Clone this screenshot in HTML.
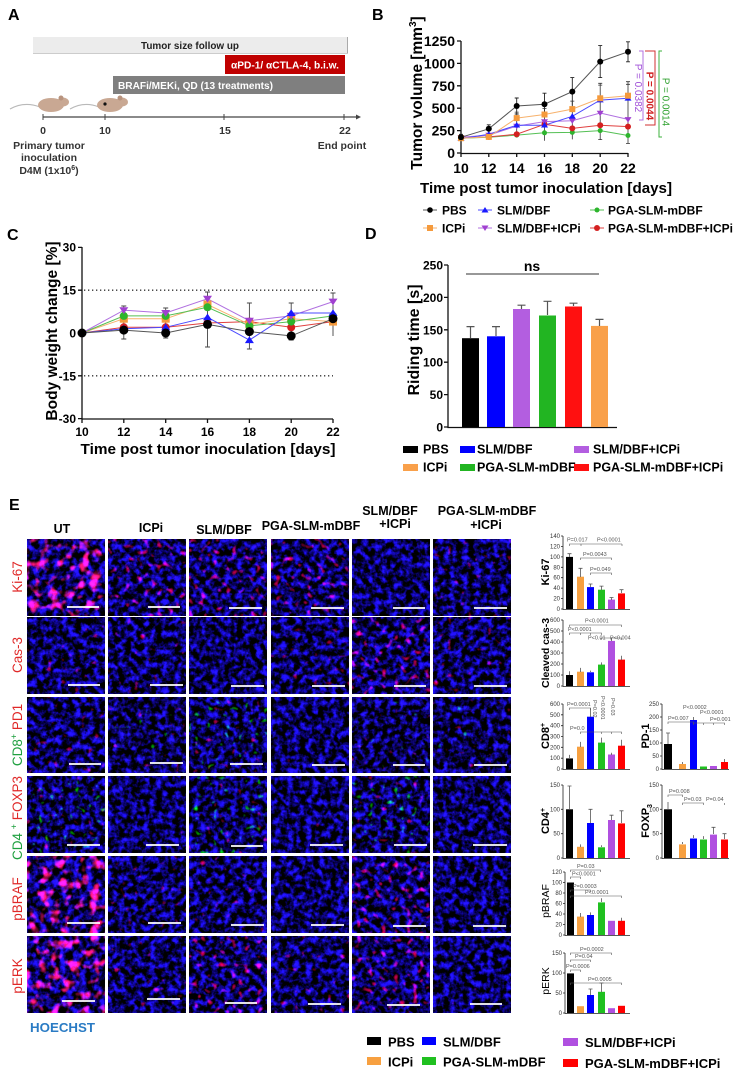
<!DOCTYPE html>
<html><head><meta charset="utf-8">
<style>
html,body{margin:0;padding:0;background:#fff;}
svg{display:block;font-family:"Liberation Sans",Arial,sans-serif;}
.b{font-weight:bold;}
</style></head><body>
<svg width="741" height="1070" viewBox="0 0 741 1070" xmlns="http://www.w3.org/2000/svg">
<defs>
<filter id="fB" x="0" y="0" width="1" height="1" color-interpolation-filters="sRGB">
 <feTurbulence type="fractalNoise" baseFrequency="0.16" numOctaves="3" seed="3" result="n"/>
 <feColorMatrix in="n" type="matrix" values="0.4 0 0 0 -0.17  0.25 0 0 0 -0.12  3.0 0 0 0 -1.15  0 0 0 0 1" result="b"/>
 <feTurbulence type="fractalNoise" baseFrequency="0.14" numOctaves="1" seed="11" result="m"/>
 <feColorMatrix in="m" type="matrix" values="0 5 0 0 -3.75  0 0 0 0 0  0 2 0 0 -1.5  0 0 0 0 1" result="r"/>
 <feComposite in="b" in2="r" operator="arithmetic" k1="0" k2="1" k3="1" k4="0"/>
</filter>
<filter id="fR1" x="0" y="0" width="1" height="1" color-interpolation-filters="sRGB">
 <feTurbulence type="fractalNoise" baseFrequency="0.16" numOctaves="3" seed="5" result="n"/>
 <feColorMatrix in="n" type="matrix" values="0.4 0 0 0 -0.17  0.25 0 0 0 -0.12  3.0 0 0 0 -1.15  0 0 0 0 1" result="b"/>
 <feTurbulence type="fractalNoise" baseFrequency="0.15" numOctaves="1" seed="21" result="m"/>
 <feColorMatrix in="m" type="matrix" values="0 5 0 0 -3.35  0 0 0 0 0  0 2 0 0 -1.4  0 0 0 0 1" result="r"/>
 <feComposite in="b" in2="r" operator="arithmetic" k1="0" k2="1" k3="1" k4="0"/>
</filter>
<filter id="fR2" x="0" y="0" width="1" height="1" color-interpolation-filters="sRGB">
 <feTurbulence type="fractalNoise" baseFrequency="0.16" numOctaves="3" seed="7" result="n"/>
 <feColorMatrix in="n" type="matrix" values="0.4 0 0 0 -0.17  0.25 0 0 0 -0.12  3.0 0 0 0 -1.15  0 0 0 0 1" result="b"/>
 <feTurbulence type="fractalNoise" baseFrequency="0.16" numOctaves="1" seed="31" result="m"/>
 <feColorMatrix in="m" type="matrix" values="0 5 0 0 -3.0  0 0 0 0 0  0 2 0 0 -1.2  0 0 0 0 1" result="r"/>
 <feComposite in="b" in2="r" operator="arithmetic" k1="0" k2="1" k3="1" k4="0"/>
</filter>
<filter id="fR3" x="0" y="0" width="1" height="1" color-interpolation-filters="sRGB">
 <feTurbulence type="fractalNoise" baseFrequency="0.15" numOctaves="3" seed="9" result="n"/>
 <feColorMatrix in="n" type="matrix" values="0.4 0 0 0 -0.17  0.25 0 0 0 -0.12  3.0 0 0 0 -1.15  0 0 0 0 1" result="b"/>
 <feTurbulence type="fractalNoise" baseFrequency="0.1" numOctaves="2" seed="41" result="m"/>
 <feColorMatrix in="m" type="matrix" values="0 5 0 0 -2.55  0 0.4 0 0 -0.2  0 2.4 0 0 -1.25  0 0 0 0 1" result="r"/>
 <feComposite in="b" in2="r" operator="arithmetic" k1="0" k2="1" k3="1" k4="0"/>
</filter>
<filter id="fG1" x="0" y="0" width="1" height="1" color-interpolation-filters="sRGB">
 <feTurbulence type="fractalNoise" baseFrequency="0.16" numOctaves="3" seed="13" result="n"/>
 <feColorMatrix in="n" type="matrix" values="0.4 0 0 0 -0.17  0.25 0 0 0 -0.12  3.0 0 0 0 -1.2  0 0 0 0 1" result="b"/>
 <feTurbulence type="fractalNoise" baseFrequency="0.16" numOctaves="1" seed="51" result="m"/>
 <feColorMatrix in="m" type="matrix" values="0 5 0 0 -3.5  0 0 5 0 -3.55  0 2 0 0 -1.45  0 0 0 0 1" result="r"/>
 <feComposite in="b" in2="r" operator="arithmetic" k1="0" k2="1" k3="1" k4="0"/>
</filter>
<filter id="fG2" x="0" y="0" width="1" height="1" color-interpolation-filters="sRGB">
 <feTurbulence type="fractalNoise" baseFrequency="0.16" numOctaves="3" seed="17" result="n"/>
 <feColorMatrix in="n" type="matrix" values="0.4 0 0 0 -0.17  0.25 0 0 0 -0.12  3.0 0 0 0 -1.15  0 0 0 0 1" result="b"/>
 <feTurbulence type="fractalNoise" baseFrequency="0.16" numOctaves="1" seed="61" result="m"/>
 <feColorMatrix in="m" type="matrix" values="0 5 0 0 -3.4  0 0 6 0 -3.95  0 2 0 0 -1.4  0 0 0 0 1" result="r"/>
 <feComposite in="b" in2="r" operator="arithmetic" k1="0" k2="1" k3="1" k4="0"/>
</filter>
</defs>

<!-- ================= Panel A ================= -->
<text x="8" y="20" class="b" font-size="16">A</text>
<rect x="33" y="37" width="314" height="16" fill="#ececec"/>
<line x1="347.5" y1="37" x2="347.5" y2="54" stroke="#aaa" stroke-width="1"/>
<line x1="33" y1="53.5" x2="348" y2="53.5" stroke="#ccc" stroke-width="1"/>
<text x="190" y="49" class="b" font-size="10" text-anchor="middle" fill="#222" textLength="98" lengthAdjust="spacingAndGlyphs">Tumor size follow up</text>
<rect x="225" y="55" width="120" height="19" fill="#c00000"/>
<text x="231" y="68.5" class="b" font-size="10" fill="#fff" textLength="108" lengthAdjust="spacingAndGlyphs">αPD-1/ αCTLA-4, b.i.w.</text>
<rect x="113" y="76" width="232" height="18" fill="#7f7f7f"/>
<text x="118" y="89" class="b" font-size="10" fill="#fff" textLength="155" lengthAdjust="spacingAndGlyphs">BRAFi/MEKi, QD (13 treatments)</text>
<path d="M10,109 Q24,101 40,107" stroke="#b9b9b9" stroke-width="1.2" fill="none"/>
<ellipse cx="51" cy="105" rx="13" ry="7" fill="#c9a893"/>
<ellipse cx="63" cy="102" rx="6" ry="4.5" fill="#c9a893"/>
<circle cx="61" cy="98" r="2.5" fill="#b8937e"/>
<path d="M70,109 Q84,101 99,107" stroke="#b9b9b9" stroke-width="1.2" fill="none"/>
<ellipse cx="110" cy="105" rx="13" ry="7" fill="#c9a893"/>
<ellipse cx="122" cy="102" rx="6" ry="4.5" fill="#c9a893"/>
<circle cx="120" cy="98" r="2.5" fill="#b8937e"/>
<circle cx="105" cy="104" r="1.6" fill="#111"/>
<line x1="43" y1="117" x2="357" y2="117" stroke="#444" stroke-width="1.2"/>
<path d="M356,114.5 L361,117 L356,119.5 Z" fill="#444"/>
<path d="M43,114V120M105,114V120M224,114V120M344,114V120" stroke="#444" stroke-width="1"/>
<g class="b" font-size="10.5" fill="#333" text-anchor="middle">
<text x="43" y="134">0</text><text x="105" y="134">10</text><text x="225" y="134">15</text><text x="345" y="134">22</text>
<text x="49" y="149">Primary tumor</text><text x="49" y="161">inoculation</text>
<text x="49" y="174">D4M (1x10<tspan font-size="7" dy="-4">6</tspan><tspan dy="4">)</tspan></text>
<text x="342" y="149">End point</text>
</g>

<!-- ================= Panel B ================= -->
<text x="372" y="20" class="b" font-size="16">B</text>
<text transform="translate(422,93) rotate(-90)" class="b" font-size="15.5" text-anchor="middle">Tumor volume [mm<tspan font-size="10" dy="-6">3</tspan><tspan dy="6">]</tspan></text>
<g class="b" font-size="14" text-anchor="end">
<text x="455" y="46">1250</text><text x="455" y="68.4">1000</text><text x="455" y="90.8">750</text>
<text x="455" y="113.2">500</text><text x="455" y="135.6">250</text><text x="455" y="158">0</text>
</g>
<path d="M461,41V153.5H628M457,41H461M457,63.4H461M457,85.8H461M457,108.2H461M457,130.6H461M457,153H461M461,153V157M488.8,153V157M516.7,153V157M544.5,153V157M572.3,153V157M600.2,153V157M628,153V157" stroke="#111" stroke-width="1.3" fill="none"/>
<g class="b" font-size="14" text-anchor="middle">
<text x="461" y="173">10</text><text x="488.8" y="173">12</text><text x="516.7" y="173">14</text><text x="544.5" y="173">16</text><text x="572.3" y="173">18</text><text x="600.2" y="173">20</text><text x="628" y="173">22</text>
</g>
<text x="546" y="193" class="b" font-size="15" text-anchor="middle" textLength="252" lengthAdjust="spacingAndGlyphs">Time post tumor inoculation [days]</text>
<path d="M459,134.3H463M461,134.3V140.3M486.8,124.8H490.8M488.8,124.8V132.8M514.7,98H518.7M516.7,98V114M514.7,114H518.7M542.5,93.2H546.5M544.5,93.2V115.2M542.5,115.2H546.5M570.3,77.6H574.3M572.3,77.6V105.6M598.2,45.6H602.2M600.2,45.6V77.6M598.2,77.6H602.2M626,41.8H630M628,41.8V61.8M626,61.8H630" stroke="#222" stroke-width="0.9" fill="none"/>
<path d="M516.7,112.1V135M544.5,108.5V140.8M572.3,101.1V139.4M600.2,83.3V139.6M628,81.7V143.5M514.7,112.1H518.7M542.5,108.5H546.5M570.3,101.1H574.3M598.2,83.3H602.2M626,81.7H630M598.2,139.6H602.2M626,143.5H630M598.2,85.1H602.2M626,84.3H630" stroke="#333" stroke-width="0.8" fill="none"/>
<polyline points="461,138.2 488.8,137.3 516.7,135.1 544.5,132.8 572.3,132.4 600.2,130.6 628,135.5" fill="none" stroke="#55c055" stroke-width="1"/>
<polyline points="461,137.8 488.8,136.9 516.7,134.2 544.5,124.3 572.3,128.4 600.2,125.2 628,126.6" fill="none" stroke="#e04040" stroke-width="1"/>
<polyline points="461,137.3 488.8,135.1 516.7,126.1 544.5,121.6 572.3,120.7 600.2,113 628,119.4" fill="none" stroke="#b070e0" stroke-width="1"/>
<polyline points="461,138.7 488.8,134.2 516.7,125.2 544.5,125.2 572.3,116.3 600.2,100.1 628,98.3" fill="none" stroke="#4a4aff" stroke-width="1"/>
<polyline points="461,138.2 488.8,136.9 516.7,118.1 544.5,114.5 572.3,109.1 600.2,98.3 628,95.7" fill="none" stroke="#f7b26d" stroke-width="1"/>
<polyline points="461,137.3 488.8,128.8 516.7,106 544.5,104.2 572.3,91.6 600.2,61.6 628,51.8" fill="none" stroke="#555" stroke-width="1"/>
<g fill="#2db52d"><circle cx="461" cy="138.2" r="2.5"/><circle cx="488.8" cy="137.3" r="2.5"/><circle cx="516.7" cy="135.1" r="2.5"/><circle cx="544.5" cy="132.8" r="2.5"/><circle cx="572.3" cy="132.4" r="2.5"/><circle cx="600.2" cy="130.6" r="2.5"/><circle cx="628" cy="135.5" r="2.5"/></g>
<g fill="#d42020"><circle cx="461" cy="137.8" r="3"/><circle cx="488.8" cy="136.9" r="3"/><circle cx="516.7" cy="134.2" r="3"/><circle cx="544.5" cy="124.3" r="3"/><circle cx="572.3" cy="128.4" r="3"/><circle cx="600.2" cy="125.2" r="3"/><circle cx="628" cy="126.6" r="3"/></g>
<g fill="#a040d0"><path d="M457.5,135H464.5L461,140.5Z"/><path d="M485.3,132.8H492.3L488.8,138.3Z"/><path d="M513.2,123.8H520.2L516.7,129.3Z"/><path d="M541,119.3H548L544.5,124.8Z"/><path d="M568.8,118.4H575.8L572.3,123.9Z"/><path d="M596.7,110.7H603.7L600.2,116.2Z"/><path d="M624.5,117.1H631.5L628,122.6Z"/></g>
<g fill="#1a1aff"><path d="M457.5,141H464.5L461,135.5Z"/><path d="M485.3,136.5H492.3L488.8,131Z"/><path d="M513.2,127.5H520.2L516.7,122Z"/><path d="M541,127.5H548L544.5,122Z"/><path d="M568.8,118.6H575.8L572.3,113.1Z"/><path d="M596.7,102.4H603.7L600.2,96.9Z"/><path d="M624.5,100.6H631.5L628,95.1Z"/></g>
<g fill="#f59a3c"><rect x="458" y="135.2" width="6" height="6"/><rect x="485.8" y="133.9" width="6" height="6"/><rect x="513.7" y="115.1" width="6" height="6"/><rect x="541.5" y="111.5" width="6" height="6"/><rect x="569.3" y="106.1" width="6" height="6"/><rect x="597.2" y="95.3" width="6" height="6"/><rect x="625" y="92.7" width="6" height="6"/></g>
<g fill="#000"><circle cx="461" cy="137.3" r="3"/><circle cx="488.8" cy="128.8" r="3"/><circle cx="516.7" cy="106" r="3"/><circle cx="544.5" cy="104.2" r="3"/><circle cx="572.3" cy="91.6" r="3"/><circle cx="600.2" cy="61.6" r="3"/><circle cx="628" cy="51.8" r="3"/></g>
<path d="M639,51H643V120H639" stroke="#b070e0" stroke-width="1" fill="none"/>
<text transform="translate(635,88) rotate(90)" font-size="10" text-anchor="middle" fill="#a050d8">P = 0.0382</text>
<path d="M645,51H655V125H645" stroke="#d03030" stroke-width="1" fill="none"/>
<text transform="translate(646.5,96) rotate(90)" class="b" font-size="10" text-anchor="middle" fill="#d02020">P = 0.0044</text>
<path d="M662,51H659V137H662" stroke="#3cb03c" stroke-width="1" fill="none"/>
<text transform="translate(662.5,102) rotate(90)" font-size="10" text-anchor="middle" fill="#2da02d">P = 0.0014</text>
<path d="M423,210H437" stroke="#555"/><circle cx="430" cy="210" r="2.8"/>
<path d="M478,210H492" stroke="#4a4aff"/><path d="M481.5,212.5H488.5L485,207Z" fill="#1a1aff"/>
<path d="M590,210H604" stroke="#55c055"/><circle cx="597" cy="210" r="2.5" fill="#2db52d"/>
<path d="M423,228H437" stroke="#f7b26d"/><rect x="427" y="225" width="6" height="6" fill="#f59a3c"/>
<path d="M478,228H492" stroke="#b070e0"/><path d="M481.5,225.5H488.5L485,231Z" fill="#a040d0"/>
<path d="M590,228H604" stroke="#e04040"/><circle cx="597" cy="228" r="3" fill="#d42020"/>
<g class="b" font-size="12">
<text x="442" y="214.5">PBS</text><text x="497" y="214.5">SLM/DBF</text><text x="608" y="214.5">PGA-SLM-mDBF</text>
<text x="442" y="232.5">ICPi</text><text x="497" y="232.5">SLM/DBF+ICPi</text><text x="608" y="232.5">PGA-SLM-mDBF+ICPi</text>
</g>

<!-- ================= Panel C ================= -->
<text x="7" y="240" class="b" font-size="16">C</text>
<text transform="translate(57,331) rotate(-90)" class="b" font-size="15.5" text-anchor="middle">Body weight change [%]</text>
<g class="b" font-size="12" text-anchor="end">
<text x="76" y="251.5">30</text><text x="76" y="294.5">15</text><text x="76" y="337.5">0</text><text x="76" y="380.5">-15</text><text x="76" y="423">-30</text>
</g>
<path d="M82,247V419H333M78,247.4H82M78,290.2H82M78,333H82M78,375.8H82M78,418.6H82M82,419V423M123.8,419V423M165.7,419V423M207.5,419V423M249.4,419V423M291.2,419V423M333,419V423" stroke="#111" stroke-width="1.3" fill="none"/>
<g class="b" font-size="12" text-anchor="middle">
<text x="82" y="436">10</text><text x="123.8" y="436">12</text><text x="165.7" y="436">14</text><text x="207.5" y="436">16</text><text x="249.4" y="436">18</text><text x="291.2" y="436">20</text><text x="333" y="436">22</text>
</g>
<text x="208" y="454" class="b" font-size="15" text-anchor="middle" textLength="255" lengthAdjust="spacingAndGlyphs">Time post tumor inoculation [days]</text>
<path d="M84,290.2H333M84,375.8H333" stroke="#333" stroke-width="1.3" stroke-dasharray="1.3,2.7"/>
<path d="M123.8,306V339M121.3,306H126.3M121.3,339H126.3M165.7,308V338M163.2,308H168.2M163.2,338H168.2M207.5,292V347M205,292H210M205,347H210M249.4,303V349M246.9,303H251.9M246.9,349H251.9M291.2,303V340M288.7,303H293.7M288.7,340H293.7M333,293V336M330.5,293H335.5" stroke="#444" stroke-width="0.9" fill="none"/>
<polyline points="82,333 123.8,327.3 165.7,327.3 207.5,323 249.4,321.6 291.2,327.3 333,321.6" fill="none" stroke="#e04040" stroke-width="1"/>
<polyline points="82,333 123.8,318.7 165.7,318.7 207.5,304.5 249.4,324.4 291.2,318.7 333,321.6" fill="none" stroke="#f7b26d" stroke-width="1"/>
<polyline points="82,333 123.8,315.9 165.7,315.9 207.5,307.3 249.4,325.9 291.2,321.6 333,315.9" fill="none" stroke="#55c055" stroke-width="1"/>
<polyline points="82,333 123.8,310.2 165.7,313 207.5,298.8 249.4,320.7 291.2,315.9 333,301.6" fill="none" stroke="#b070e0" stroke-width="1"/>
<polyline points="82,333 123.8,328.7 165.7,327.3 207.5,317.3 249.4,340.1 291.2,313 333,313" fill="none" stroke="#4a4aff" stroke-width="1"/>
<polyline points="82,333 123.8,330.1 165.7,333 207.5,324.4 249.4,331.6 291.2,335.9 333,318.7" fill="none" stroke="#555" stroke-width="1"/>
<g fill="#d42020"><circle cx="123.8" cy="327.3" r="4"/><circle cx="165.7" cy="327.3" r="4"/><circle cx="207.5" cy="323" r="4"/><circle cx="249.4" cy="321.6" r="4"/><circle cx="291.2" cy="327.3" r="4"/><circle cx="333" cy="321.6" r="4"/></g>
<g fill="#f59a3c"><rect x="119.8" y="314.7" width="8" height="8"/><rect x="161.7" y="314.7" width="8" height="8"/><rect x="203.5" y="300.5" width="8" height="8"/><rect x="245.4" y="320.4" width="8" height="8"/><rect x="287.2" y="314.7" width="8" height="8"/><rect x="329" y="317.6" width="8" height="8"/></g>
<g fill="#2db52d"><circle cx="123.8" cy="315.9" r="4"/><circle cx="165.7" cy="315.9" r="4"/><circle cx="207.5" cy="307.3" r="4"/><circle cx="249.4" cy="325.9" r="4"/><circle cx="291.2" cy="321.6" r="4"/><circle cx="333" cy="315.9" r="4"/></g>
<g fill="#a040d0"><path d="M119.3,307.2H128.3L123.8,314Z"/><path d="M161.2,310H170.2L165.7,316.8Z"/><path d="M203,295.8H212L207.5,302.6Z"/><path d="M244.9,317.7H253.9L249.4,324.5Z"/><path d="M286.7,312.9H295.7L291.2,319.7Z"/><path d="M328.5,298.6H337.5L333,305.4Z"/></g>
<g fill="#1a1aff"><path d="M119.3,331.7H128.3L123.8,324.9Z"/><path d="M161.2,330.3H170.2L165.7,323.5Z"/><path d="M203,320.3H212L207.5,313.5Z"/><path d="M244.9,343.1H253.9L249.4,336.3Z"/><path d="M286.7,316H295.7L291.2,309.2Z"/><path d="M328.5,316H337.5L333,309.2Z"/></g>
<g fill="#000"><circle cx="82" cy="333" r="4.5"/><circle cx="123.8" cy="330.1" r="4.5"/><circle cx="165.7" cy="333" r="4.5"/><circle cx="207.5" cy="324.4" r="4.5"/><circle cx="249.4" cy="331.6" r="4.5"/><circle cx="291.2" cy="335.9" r="4.5"/><circle cx="333" cy="318.7" r="4.5"/></g>

<!-- ================= Panel D ================= -->
<text x="365" y="239" class="b" font-size="16">D</text>
<text transform="translate(419,340) rotate(-90)" class="b" font-size="16" text-anchor="middle">Riding time [s]</text>
<g class="b" font-size="12" text-anchor="end">
<text x="443" y="269.5">250</text><text x="443" y="301.9">200</text><text x="443" y="334.3">150</text><text x="443" y="366.7">100</text><text x="443" y="399.1">50</text><text x="443" y="431.5">0</text>
</g>
<path d="M448,265V427.5H617M444,265H448M444,297.4H448M444,329.8H448M444,362.2H448M444,394.6H448M444,427H448" stroke="#111" stroke-width="1.3" fill="none"/>
<text x="532" y="271" class="b" font-size="14" text-anchor="middle">ns</text>
<line x1="466" y1="274" x2="599" y2="274" stroke="#777" stroke-width="1.5"/>
<rect x="462" y="338.2" width="17" height="88.8" fill="#000"/>
<rect x="487" y="336.3" width="18" height="90.7" fill="#0000ff"/>
<rect x="513" y="309" width="17" height="118" fill="#b35ee0"/>
<rect x="539" y="315.5" width="17" height="111.5" fill="#22b522"/>
<rect x="565" y="306.5" width="17" height="120.5" fill="#ff1010"/>
<rect x="591" y="325.9" width="17" height="101.1" fill="#f9a04a"/>
<path d="M470.5,338V326.6M466.5,326.6H474.5M496,336V326.6M492,326.6H500M521.5,309V305.2M517.5,305.2H525.5M547.5,315V301.3M543.5,301.3H551.5M573.5,306V303.2M569.5,303.2H577.5M599.5,326V319.4M595.5,319.4H603.5" stroke="#555" stroke-width="1.2" fill="none"/>
<g class="b" font-size="12.5">
<rect x="403" y="446" width="15" height="7" fill="#000"/><text x="423" y="453.5">PBS</text>
<rect x="460" y="446" width="15" height="7" fill="#0000ff"/><text x="477" y="453.5">SLM/DBF</text>
<rect x="574" y="446" width="15" height="7" fill="#b35ee0"/><text x="593" y="453.5">SLM/DBF+ICPi</text>
<rect x="403" y="464" width="15" height="7" fill="#f9a04a"/><text x="423" y="471.5">ICPi</text>
<rect x="460" y="464" width="15" height="7" fill="#22b522"/><text x="477" y="471.5">PGA-SLM-mDBF</text>
<rect x="574" y="464" width="15" height="7" fill="#ff1010"/><text x="593" y="471.5">PGA-SLM-mDBF+ICPi</text>
</g>

<!-- ================= Panel E ================= -->
<text x="9" y="510" class="b" font-size="16">E</text>
<g class="b" font-size="12.5" text-anchor="middle">
<text x="62" y="533">UT</text><text x="151" y="532">ICPi</text><text x="224" y="534">SLM/DBF</text><text x="311" y="530">PGA-SLM-mDBF</text>
<text x="390" y="515">SLM/DBF</text><text x="395" y="528">+ICPi</text>
<text x="487" y="515">PGA-SLM-mDBF</text><text x="486" y="529">+ICPi</text>
</g>
<g font-size="13.5" text-anchor="middle">
<text transform="translate(22,577) rotate(-90)" fill="#e02828">Ki-67</text>
<text transform="translate(22,655) rotate(-90)" fill="#e02828">Cas-3</text>
<text transform="translate(22,735) rotate(-90)"><tspan fill="#1fa040">CD8</tspan><tspan fill="#1fa040" font-size="9" dy="-5">+</tspan><tspan fill="#e02828" dy="5"> PD1</tspan></text>
<text transform="translate(22,818) rotate(-90)"><tspan fill="#1fa040">CD4 </tspan><tspan fill="#1fa040" font-size="9" dy="-5">+</tspan><tspan fill="#e02828" dy="5"> FOXP3</tspan></text>
<text transform="translate(22,899) rotate(-90)" fill="#e02828">pBRAF</text>
<text transform="translate(22,976) rotate(-90)" fill="#e02828">pERK</text>
</g>
<text x="30" y="1032" class="b" font-size="13.3" fill="#2a7bc4">HOECHST</text>

<g>
<rect x="27" y="539" width="78" height="77" filter="url(#fR3)"/>
<rect x="108" y="539" width="78" height="77" filter="url(#fR2)"/>
<rect x="189" y="539" width="78" height="77" filter="url(#fR2)"/>
<rect x="271" y="539" width="78" height="77" filter="url(#fR2)"/>
<rect x="352" y="539" width="78" height="77" filter="url(#fB)"/>
<rect x="433" y="539" width="78" height="77" filter="url(#fR1)"/>

<rect x="27" y="617" width="78" height="77" filter="url(#fR1)"/>
<rect x="108" y="617" width="78" height="77" filter="url(#fR1)"/>
<rect x="189" y="617" width="78" height="77" filter="url(#fB)"/>
<rect x="271" y="617" width="78" height="77" filter="url(#fR1)"/>
<rect x="352" y="617" width="78" height="77" filter="url(#fR2)"/>
<rect x="433" y="617" width="78" height="77" filter="url(#fR1)"/>

<rect x="27" y="697" width="78" height="76" filter="url(#fR1)"/>
<rect x="108" y="697" width="78" height="76" filter="url(#fG1)"/>
<rect x="189" y="697" width="78" height="76" filter="url(#fG2)"/>
<rect x="271" y="697" width="78" height="76" filter="url(#fB)"/>
<rect x="352" y="697" width="78" height="76" filter="url(#fG1)"/>
<rect x="433" y="697" width="78" height="76" filter="url(#fG1)"/>

<rect x="27" y="776" width="78" height="77" filter="url(#fG2)"/>
<rect x="108" y="776" width="78" height="77" filter="url(#fB)"/>
<rect x="189" y="776" width="78" height="77" filter="url(#fG2)"/>
<rect x="271" y="776" width="78" height="77" filter="url(#fB)"/>
<rect x="352" y="776" width="78" height="77" filter="url(#fG2)"/>
<rect x="433" y="776" width="78" height="77" filter="url(#fB)"/>

<rect x="27" y="856" width="78" height="77" filter="url(#fR3)"/>
<rect x="108" y="856" width="78" height="77" filter="url(#fR1)"/>
<rect x="189" y="856" width="78" height="77" filter="url(#fR1)"/>
<rect x="271" y="856" width="78" height="77" filter="url(#fB)"/>
<rect x="352" y="856" width="78" height="77" filter="url(#fR2)"/>
<rect x="433" y="856" width="78" height="77" filter="url(#fB)"/>

<rect x="27" y="936" width="78" height="77" filter="url(#fR3)"/>
<rect x="108" y="936" width="78" height="77" filter="url(#fR1)"/>
<rect x="189" y="936" width="78" height="77" filter="url(#fR2)"/>
<rect x="271" y="936" width="78" height="77" filter="url(#fR1)"/>
<rect x="352" y="936" width="78" height="77" filter="url(#fR2)"/>
<rect x="433" y="936" width="78" height="77" filter="url(#fB)"/>
</g>
<path d="M67,607H99M148,607H180M229,608H262M311,608H344M393,608H425M474,608H507
M68,685H100M150,685H183M231,686H264M312,686H345M394,686H426M474,686H507
M69,764H101M150,763H183M230,764H263M312,765H345M393,765H425M474,765H507
M67,845H100M146,845H179M231,846H263M310,845H343M394,845H427M473,845H507
M67,923H100M148,923H181M231,925H264M311,925H344M393,926H426M473,926H506
M62,1001H95M147,999H180M225,1003H257M308,1004H341M387,1005H420M470,1004H502" stroke="#fff" stroke-width="1.8" fill="none"/>

<g font-size="6" fill="#333" text-anchor="end">
<text x="560" y="611">0</text><text x="560" y="600.6">20</text><text x="560" y="590.1">40</text><text x="560" y="579.7">60</text><text x="560" y="569.3">80</text><text x="560" y="558.9">100</text><text x="560" y="548.4">120</text><text x="560" y="538">140</text>
<text x="560" y="688">0</text><text x="560" y="677">100</text><text x="560" y="666">200</text><text x="560" y="655">300</text><text x="560" y="644">400</text><text x="560" y="633">500</text><text x="560" y="622">600</text>
<text x="560" y="771">0</text><text x="560" y="760.2">100</text><text x="560" y="749.3">200</text><text x="560" y="738.5">300</text><text x="560" y="727.7">400</text><text x="560" y="716.8">500</text><text x="560" y="706">600</text>
<text x="659" y="771">0</text><text x="659" y="758">50</text><text x="659" y="745">100</text><text x="659" y="732">150</text><text x="659" y="719">200</text><text x="659" y="706">250</text>
<text x="560" y="860">0</text><text x="560" y="835.7">50</text><text x="560" y="811.3">100</text><text x="560" y="787">150</text>
<text x="659" y="860">0</text><text x="659" y="835.7">50</text><text x="659" y="811.3">100</text><text x="659" y="787">150</text>
<text x="562" y="937">0</text><text x="562" y="926.5">20</text><text x="562" y="916">40</text><text x="562" y="905.5">60</text><text x="562" y="895">80</text><text x="562" y="884.5">100</text><text x="562" y="874">120</text>
<text x="562" y="1015">0</text><text x="562" y="995">50</text><text x="562" y="975">100</text><text x="562" y="955">150</text>
</g>
<path d="M563,536V609.5H630M561,536H563M561,546.4H563M561,556.9H563M561,567.3H563M561,577.7H563M561,588.1H563M561,598.6H563M561,609H563
M563,620V686.5H630M561,620H563M561,631H563M561,642H563M561,653H563M561,664H563M561,675H563M561,686H563
M563,704V769.5H630M561,704H563M561,714.8H563M561,725.7H563M561,736.5H563M561,747.3H563M561,758.2H563M561,769H563
M662,704V769.5H729M660,704H662M660,717H662M660,730H662M660,743H662M660,756H662M660,769H662
M563,785V858.5H630M561,785H563M561,809.3H563M561,833.7H563M561,858H563
M662,785V858.5H729M660,785H662M660,809.3H662M660,833.7H662M660,858H662
M565,872V935.5H630M563,872H565M563,882.5H565M563,893H565M563,903.5H565M563,914H565M563,924.5H565M563,935H565
M565,953V1013.5H630M563,953H565M563,973H565M563,993H565M563,1013H565" stroke="#222" stroke-width="0.8" fill="none"/>

<g>
<rect x="566" y="556.9" width="7" height="52.1" fill="#000"/><rect x="577" y="576.7" width="7" height="32.3" fill="#f7a040"/><rect x="587" y="587.1" width="7" height="21.9" fill="#0000ff"/><rect x="598" y="589.7" width="7" height="19.3" fill="#20c020"/><rect x="608" y="599.6" width="7" height="9.4" fill="#b050e0"/><rect x="618" y="593.4" width="7" height="15.6" fill="#ff0000"/>
<path d="M569.5,557V553.7M567.5,553.7H571.5M580.5,577V568.3M578.5,568.3H582.5M590.5,587V584M588.5,584H592.5M601.5,590V586.1M599.5,586.1H603.5M611.5,600V597.5M609.5,597.5H613.5M621.5,593V589.7M619.5,589.7H623.5" stroke="#555" stroke-width="0.8" fill="none"/>
<rect x="566" y="675" width="7" height="11" fill="#000"/><rect x="577" y="671.7" width="7" height="14.3" fill="#f7a040"/><rect x="587" y="672.3" width="7" height="13.7" fill="#0000ff"/><rect x="598" y="664.6" width="7" height="21.4" fill="#20c020"/><rect x="608" y="640.9" width="7" height="45.1" fill="#b050e0"/><rect x="618" y="659.6" width="7" height="26.4" fill="#ff0000"/>
<path d="M569.5,675V671.2M580.5,672V667.9M590.5,672V670.6M601.5,665V662.4M611.5,641V637.6M621.5,660V655.8" stroke="#555" stroke-width="0.8" fill="none"/>
<rect x="566" y="758.4" width="7" height="10.6" fill="#000"/><rect x="577" y="746.7" width="7" height="22.3" fill="#f7a040"/><rect x="587" y="716.7" width="7" height="52.3" fill="#0000ff"/><rect x="598" y="742.6" width="7" height="26.4" fill="#20c020"/><rect x="608" y="754.5" width="7" height="14.5" fill="#b050e0"/><rect x="618" y="745.7" width="7" height="23.3" fill="#ff0000"/>
<path d="M569.5,758V754.9M580.5,747V741.9M590.5,717V708.3M601.5,743V737.6M611.5,755V752.8M621.5,746V739.8" stroke="#555" stroke-width="0.8" fill="none"/>
<rect x="664" y="744" width="8" height="25" fill="#000"/><rect x="679" y="764" width="7" height="5" fill="#f7a040"/><rect x="690" y="720" width="7" height="49" fill="#0000ff"/><rect x="700" y="766.5" width="7" height="2.5" fill="#20c020"/><rect x="710" y="766" width="7" height="3" fill="#b050e0"/><rect x="721" y="762" width="7" height="7" fill="#ff0000"/>
<path d="M668,744V733M666,733H670M682.5,764V762M693.5,720V717M724.5,762V759" stroke="#555" stroke-width="0.8" fill="none"/>
<rect x="566" y="809.3" width="7" height="48.7" fill="#000"/><rect x="577" y="846.8" width="7" height="11.2" fill="#f7a040"/><rect x="587" y="823" width="7" height="35" fill="#0000ff"/><rect x="598" y="847.3" width="7" height="10.7" fill="#20c020"/><rect x="608" y="820" width="7" height="38" fill="#b050e0"/><rect x="618" y="823.4" width="7" height="34.6" fill="#ff0000"/>
<path d="M569.5,809V786M567.5,786H571.5M580.5,847V844.4M590.5,823V809.3M588.5,809.3H592.5M601.5,847V845.3M611.5,820V815.2M609.5,815.2H613.5M621.5,823V810.8M619.5,810.8H623.5" stroke="#555" stroke-width="0.8" fill="none"/>
<rect x="664" y="809.3" width="8" height="48.7" fill="#000"/><rect x="679" y="844.4" width="7" height="13.6" fill="#f7a040"/><rect x="690" y="838.5" width="7" height="19.5" fill="#0000ff"/><rect x="700" y="839.5" width="7" height="18.5" fill="#20c020"/><rect x="710" y="834.6" width="7" height="23.4" fill="#b050e0"/><rect x="721" y="839.5" width="7" height="18.5" fill="#ff0000"/>
<path d="M668,809V802M682.5,844V842M693.5,838V835.1M703.5,839V836.1M713.5,834V827.3M711.5,827.3H715.5M724.5,839V833.7M722.5,833.7H726.5" stroke="#555" stroke-width="0.8" fill="none"/>
<rect x="567" y="882.5" width="7" height="52.5" fill="#000"/><rect x="577" y="916.6" width="7" height="18.4" fill="#f7a040"/><rect x="587" y="915" width="7" height="20" fill="#0000ff"/><rect x="598" y="902.4" width="7" height="32.6" fill="#20c020"/><rect x="608" y="920.8" width="7" height="14.2" fill="#b050e0"/><rect x="618" y="920.8" width="7" height="14.2" fill="#ff0000"/>
<path d="M580.5,917V913M590.5,915V912.4M601.5,902V898.2M621.5,921V917.7" stroke="#555" stroke-width="0.8" fill="none"/>
<rect x="567" y="973.4" width="7" height="39.6" fill="#000"/><rect x="577" y="1006.2" width="7" height="6.8" fill="#f7a040"/><rect x="587" y="995" width="7" height="18" fill="#0000ff"/><rect x="598" y="991.8" width="7" height="21.2" fill="#20c020"/><rect x="608" y="1008.2" width="7" height="4.8" fill="#b050e0"/><rect x="618" y="1005.8" width="7" height="7.2" fill="#ff0000"/>
<path d="M590.5,995V989M588.5,989H592.5M601.5,992V983M599.5,983H603.5" stroke="#555" stroke-width="0.8" fill="none"/>
</g>

<g class="b" font-size="11" text-anchor="middle">
<text transform="translate(549,572) rotate(-90)">Ki-67</text>
<text transform="translate(549,653) rotate(-90)" font-size="10.5">Cleaved cas-3</text>
<text transform="translate(549,736) rotate(-90)">CD8<tspan font-size="7" dy="-4">+</tspan></text>
<text transform="translate(649,736) rotate(-90)">PD-1</text>
<text transform="translate(549,821) rotate(-90)">CD4<tspan font-size="7" dy="-4">+</tspan></text>
<text transform="translate(649,821) rotate(-90)">FOXP<tspan font-size="7" dy="3">3</tspan></text>
</g>
<g font-size="10.5" text-anchor="middle">
<text transform="translate(549,901) rotate(-90)">pBRAF</text>
<text transform="translate(549,981) rotate(-90)">pERK</text>
</g>

<g stroke="#555" stroke-width="0.6" fill="none">
<path d="M569.5,546V544H622M581,544V546M622,544V546"/>
<path d="M580.5,560V558H611.5V560"/>
<path d="M590.5,575V573H611.5V575"/>
<path d="M569.5,627V625H621.5V627"/>
<path d="M569.5,635V633H601.5V635M580.5,633V635M590.5,633V635"/>
<path d="M601,640V638H621.5V640M611.5,638V640"/>
<path d="M569.5,710V708H590.5V710"/>
<path d="M580.5,734V732H621.5V734M601.5,732V734M611.5,732V734"/>
<path d="M668,724V722H693.5V724"/>
<path d="M693.5,725V723H724.5V725M703.5,723V725M713.5,723V725"/>
<path d="M668,797V795H682.5V797"/>
<path d="M682.5,805V803H703.5V805M724.5,803V805"/>
<path d="M570.5,872V870H600.5V872"/>
<path d="M570.5,879V877H580.5V879"/>
<path d="M570.5,892V890H590.5V892"/>
<path d="M570.5,898V896H621.5V898"/>
<path d="M570.5,955V953H611.5V955"/>
<path d="M570.5,962V960H590.5V962"/>
<path d="M570.5,972V970H580.5V972"/>
<path d="M570.5,985V983H621.5V985"/>
</g>
<g font-size="5.5" fill="#555">
<text x="567" y="541.5">P=0.017</text><text x="597" y="541.5">P&lt;0.0001</text>
<text x="583" y="556">P=0.0043</text><text x="590" y="571">P=0.049</text>
<text x="585" y="622.5">P&lt;0.0001</text><text x="568" y="631">P&lt;0.0001</text>
<text x="588" y="639.5">P&lt;0.01</text><text x="610" y="639.5">P&lt;0.004</text>
<text x="567" y="706">P=0.0001</text><text x="570" y="730">P=0.0</text>
<text x="683" y="709">P&lt;0.0002</text><text x="668" y="720">P=0.007</text>
<text x="700" y="714">P&lt;0.0001</text><text x="710" y="721">P=0.001</text>
<text x="669" y="793">P=0.008</text><text x="684" y="801">P=0.03</text><text x="706" y="801">P=0.04</text>
<text x="577" y="868">P=0.03</text><text x="572" y="875.5">P&lt;0.0001</text>
<text x="573" y="888">P=0.0003</text><text x="585" y="894">P&lt;0.0001</text>
<text x="580" y="951">P=0.0002</text><text x="575" y="958">P=0.04</text>
<text x="566" y="968">P=0.0006</text><text x="588" y="981">P=0.0005</text>
<text transform="translate(593,700) rotate(90)">P=0.02</text>
<text transform="translate(601,696) rotate(90)">P&lt;0.0001</text>
<text transform="translate(611,698) rotate(90)">P=0.03</text>
</g>

<g class="b" font-size="13">
<rect x="367" y="1037" width="14" height="8" fill="#000"/><text x="388" y="1046.5">PBS</text>
<rect x="422" y="1037" width="14" height="8" fill="#0000ff"/><text x="443" y="1046.5">SLM/DBF</text>
<rect x="563" y="1038" width="15" height="8" fill="#b050e0"/><text x="585" y="1047">SLM/DBF+ICPi</text>
<rect x="367" y="1057" width="14" height="8" fill="#f7a040"/><text x="388" y="1066.5">ICPi</text>
<rect x="422" y="1057" width="14" height="8" fill="#20c020"/><text x="443" y="1066.5">PGA-SLM-mDBF</text>
<rect x="563" y="1059" width="15" height="8" fill="#ff0000"/><text x="585" y="1068">PGA-SLM-mDBF+ICPi</text>
</g>
</svg>
</body></html>
